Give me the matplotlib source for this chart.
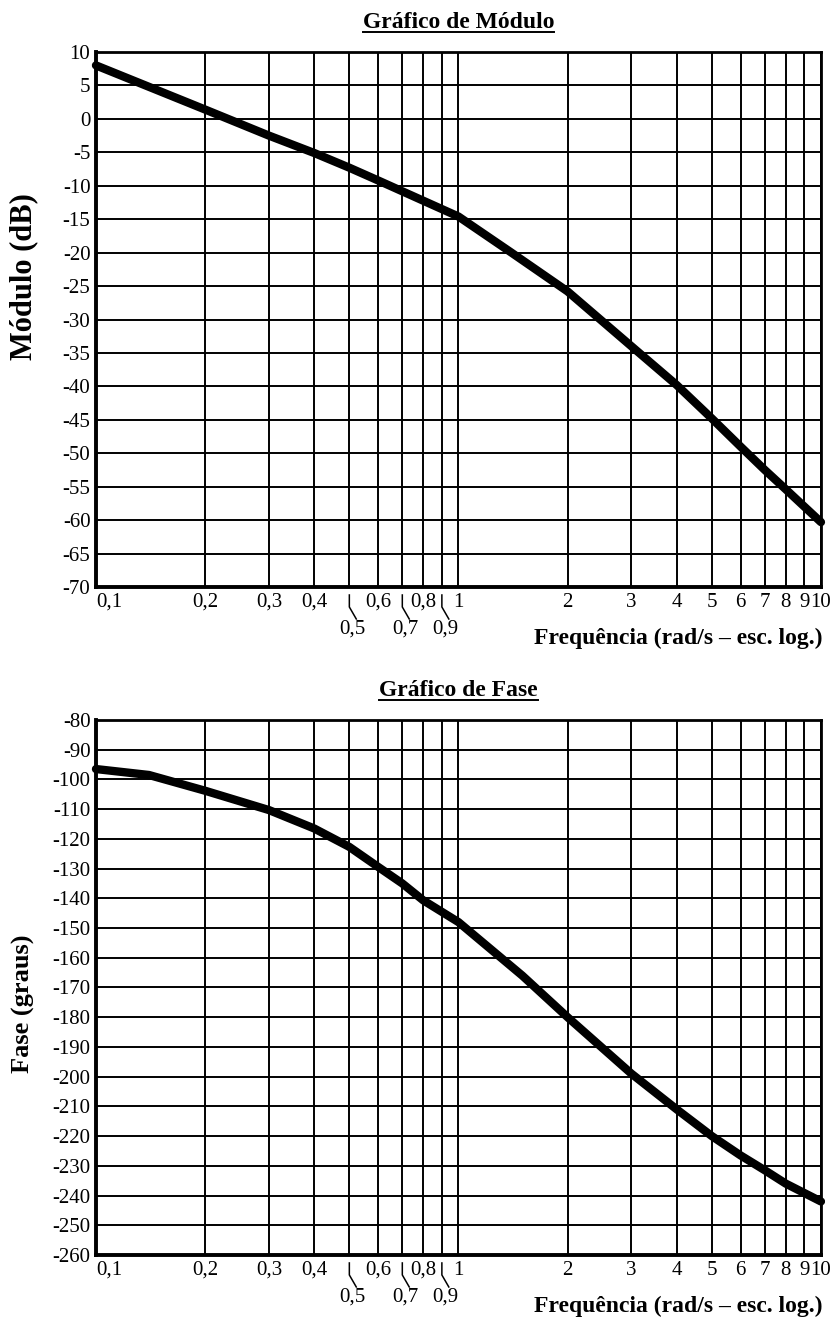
import matplotlib.pyplot as plt
from matplotlib.transforms import blended_transform_factory
from matplotlib.lines import Line2D

plt.rcParams['font.family'] = ['Liberation Serif', 'DejaVu Serif']

# Data
freq_mag = [0.1, 0.2, 0.3, 0.4, 0.5, 0.6, 1.0, 1.4, 2, 3, 4, 5, 6, 7, 8, 10]
mag_db = [8, 1.4, -2.5, -5.1, -7.3, -9.2, -14.6, -20, -25.8, -34, -39.8,
          -44.8, -49, -52.5, -55.4, -60.3]

freq_ph = [0.1, 0.14, 0.2, 0.3, 0.4, 0.5, 0.6, 0.7, 0.8, 1.0, 1.5, 2, 3, 4, 5, 6, 7, 8, 10]
phase_deg = [-96.5, -98.5, -103.8, -110.3, -116.5, -122.7, -129.4, -135, -140.7,
             -148, -166, -180, -199, -211, -220, -226.5, -231.5, -236, -242]

xticks_main = [0.1, 0.2, 0.3, 0.4, 0.6, 0.8, 1, 2, 3, 4, 5, 6, 7, 8, 9, 10]
xlabels_main = ['0,1', '0,2', '0,3', '0,4', '0,6', '0,8', '1', '2', '3', '4',
                '5', '6', '7', '8', '9', '10']
xticks_low = [0.5, 0.7, 0.9]
xlabels_low = ['0,5', '0,7', '0,9']
grid_x = [0.1, 0.2, 0.3, 0.4, 0.5, 0.6, 0.7, 0.8, 0.9, 1, 2, 3, 4, 5, 6, 7, 8, 9, 10]

mag_ticks = list(range(-70, 11, 5))
ph_ticks = list(range(-260, -79, 10))

fig = plt.figure(figsize=(8.36, 13.17), dpi=100)
ax1 = fig.add_axes([0.1148, 0.5543, 0.8672, 0.4062])
ax2 = fig.add_axes([0.1148, 0.0471, 0.8672, 0.4062])

H = 535.0  # axes height in pixels


def setup(ax, yticks, title, ylabel, ylabel_y, ylabel_size):
    ax.set_xscale('log')
    ax.set_xlim(0.1, 10)
    ax.set_ylim(yticks[0], yticks[-1])
    for g in grid_x:
        ax.axvline(g, color='black', lw=1.4, zorder=1)
    for v in yticks:
        ax.axhline(v, color='black', lw=1.4, zorder=1)
    ax.set_yticks(yticks)
    ax.set_yticklabels([str(v) for v in yticks], fontsize=15)
    ax.minorticks_off()
    ax.set_xticks(xticks_main)
    ax.set_xticklabels(xlabels_main, fontsize=15)
    ax.get_xticklabels()[0].set_horizontalalignment('left')
    ax.tick_params(length=0, pad=4)
    for s in ax.spines.values():
        s.set_linewidth(2.0)
        s.set_zorder(3)
    ax.spines['left'].set_linewidth(2.8)
    ax.spines['bottom'].set_linewidth(2.8)

    # lower row labels with small leader lines
    tr = blended_transform_factory(ax.transData, ax.transAxes)
    for x, lab in zip(xticks_low, xlabels_low):
        ax.add_line(Line2D([x, x, x * 1.045], [-8 / H, -20 / H, -32 / H],
                           color='black', lw=1.1, transform=tr, clip_on=False))
        ax.text(x * 1.02, -42 / H, lab, transform=tr, fontsize=15,
                ha='center', va='center')

    ax.text(1.002, -51 / H, 'Frequência (rad/s – esc. log.)', transform=ax.transAxes,
            fontsize=17, fontweight='bold', ha='right', va='center')
    ax.text(-0.1, ylabel_y, ylabel, transform=ax.transAxes, rotation=90,
            fontsize=ylabel_size, fontweight='bold', ha='center', va='center')
    t = ax.text(0.5, 1 + 30 / H, title, transform=ax.transAxes,
                fontsize=17, fontweight='bold', ha='center', va='center')
    return t


t1 = setup(ax1, mag_ticks, 'Gráfico de Módulo', 'Módulo (dB)', 0.58, 22)
t2 = setup(ax2, ph_ticks, 'Gráfico de Fase', 'Fase (graus)', 0.47, 19)

ax1.plot(freq_mag, mag_db, color='black', lw=6, solid_capstyle='round',
         solid_joinstyle='round', clip_on=False, zorder=4)
ax2.plot(freq_ph, phase_deg, color='black', lw=6, solid_capstyle='round',
         solid_joinstyle='round', clip_on=False, zorder=4)

# underline the titles
fig.canvas.draw()
inv = fig.transFigure.inverted()
for t in (t1, t2):
    bb = t.get_window_extent()
    x0, y0 = inv.transform((bb.x0, bb.y0 + 1))
    x1, _ = inv.transform((bb.x1, bb.y0 + 1))
    fig.add_artist(Line2D([x0, x1], [y0, y0], color='black', lw=1.4,
                          transform=fig.transFigure))

fig.savefig('out.png', dpi=100)
